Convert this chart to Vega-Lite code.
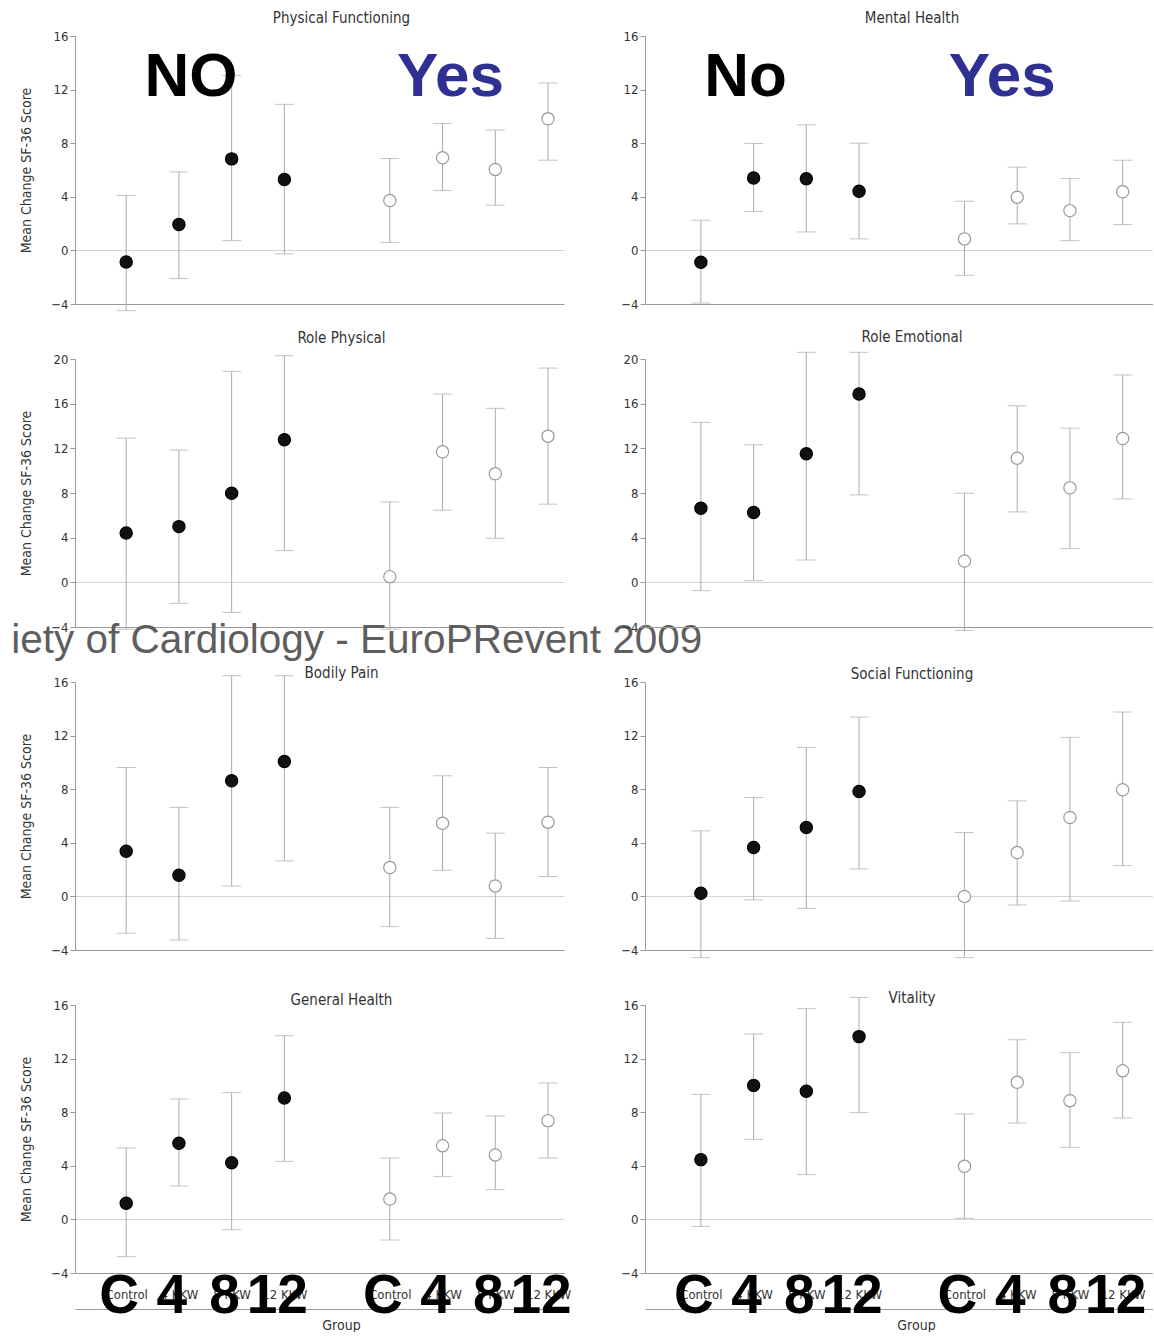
{
"$schema": "https://vega.github.io/schema/vega-lite/v6.json",
"padding": {"left": 11, "top": 11, "right": 0, "bottom": 0},
"background": "white",
"datasets": {"sf": [
{"p":"PF","slot":"No|Control","arm":"No","m":-0.86,"lo":-4.5,"hi":4.1},
{"p":"PF","slot":"No|4 KKW","arm":"No","m":1.93,"lo":-2.1,"hi":5.86},
{"p":"PF","slot":"No|8 KKW","arm":"No","m":6.83,"lo":0.73,"hi":13.06},
{"p":"PF","slot":"No|12 KKW","arm":"No","m":5.29,"lo":-0.26,"hi":10.9},
{"p":"PF","slot":"Yes|Control","arm":"Yes","m":3.72,"lo":0.6,"hi":6.86},
{"p":"PF","slot":"Yes|4 KKW","arm":"Yes","m":6.91,"lo":4.47,"hi":9.47},
{"p":"PF","slot":"Yes|8 KKW","arm":"Yes","m":6.04,"lo":3.37,"hi":8.98},
{"p":"PF","slot":"Yes|12 KKW","arm":"Yes","m":9.82,"lo":6.73,"hi":12.49},
{"p":"MH","slot":"No|Control","arm":"No","m":-0.89,"lo":-3.93,"hi":2.25},
{"p":"MH","slot":"No|4 KKW","arm":"No","m":5.41,"lo":2.9,"hi":7.98},
{"p":"MH","slot":"No|8 KKW","arm":"No","m":5.34,"lo":1.38,"hi":9.37},
{"p":"MH","slot":"No|12 KKW","arm":"No","m":4.42,"lo":0.86,"hi":8.0},
{"p":"MH","slot":"Yes|Control","arm":"Yes","m":0.86,"lo":-1.86,"hi":3.67},
{"p":"MH","slot":"Yes|4 KKW","arm":"Yes","m":3.97,"lo":1.98,"hi":6.21},
{"p":"MH","slot":"Yes|8 KKW","arm":"Yes","m":2.97,"lo":0.73,"hi":5.37},
{"p":"MH","slot":"Yes|12 KKW","arm":"Yes","m":4.37,"lo":1.93,"hi":6.73},
{"p":"RP","slot":"No|Control","arm":"No","m":4.42,"lo":-4.2,"hi":12.91},
{"p":"RP","slot":"No|4 KKW","arm":"No","m":4.99,"lo":-1.88,"hi":11.84},
{"p":"RP","slot":"No|8 KKW","arm":"No","m":7.98,"lo":-2.69,"hi":18.9},
{"p":"RP","slot":"No|12 KKW","arm":"No","m":12.77,"lo":2.84,"hi":20.3},
{"p":"RP","slot":"Yes|Control","arm":"Yes","m":0.51,"lo":-4.2,"hi":7.2},
{"p":"RP","slot":"Yes|4 KKW","arm":"Yes","m":11.69,"lo":6.46,"hi":16.86},
{"p":"RP","slot":"Yes|8 KKW","arm":"Yes","m":9.72,"lo":3.95,"hi":15.58},
{"p":"RP","slot":"Yes|12 KKW","arm":"Yes","m":13.09,"lo":7.0,"hi":19.19},
{"p":"RE","slot":"No|Control","arm":"No","m":6.64,"lo":-0.75,"hi":14.32},
{"p":"RE","slot":"No|4 KKW","arm":"No","m":6.25,"lo":0.15,"hi":12.32},
{"p":"RE","slot":"No|8 KKW","arm":"No","m":11.51,"lo":2.0,"hi":20.6},
{"p":"RE","slot":"No|12 KKW","arm":"No","m":16.86,"lo":7.83,"hi":20.6},
{"p":"RE","slot":"Yes|Control","arm":"Yes","m":1.91,"lo":-4.3,"hi":7.98},
{"p":"RE","slot":"Yes|4 KKW","arm":"Yes","m":11.12,"lo":6.31,"hi":15.81},
{"p":"RE","slot":"Yes|8 KKW","arm":"Yes","m":8.46,"lo":3.02,"hi":13.81},
{"p":"RE","slot":"Yes|12 KKW","arm":"Yes","m":12.88,"lo":7.47,"hi":18.57},
{"p":"BP","slot":"No|Control","arm":"No","m":3.37,"lo":-2.75,"hi":9.62},
{"p":"BP","slot":"No|4 KKW","arm":"No","m":1.58,"lo":-3.25,"hi":6.64},
{"p":"BP","slot":"No|8 KKW","arm":"No","m":8.63,"lo":0.78,"hi":16.47},
{"p":"BP","slot":"No|12 KKW","arm":"No","m":10.07,"lo":2.65,"hi":16.47},
{"p":"BP","slot":"Yes|Control","arm":"Yes","m":2.15,"lo":-2.26,"hi":6.64},
{"p":"BP","slot":"Yes|4 KKW","arm":"Yes","m":5.46,"lo":1.95,"hi":9.0},
{"p":"BP","slot":"Yes|8 KKW","arm":"Yes","m":0.78,"lo":-3.13,"hi":4.72},
{"p":"BP","slot":"Yes|12 KKW","arm":"Yes","m":5.54,"lo":1.48,"hi":9.62},
{"p":"SF","slot":"No|Control","arm":"No","m":0.23,"lo":-4.57,"hi":4.89},
{"p":"SF","slot":"No|4 KKW","arm":"No","m":3.65,"lo":-0.26,"hi":7.38},
{"p":"SF","slot":"No|8 KKW","arm":"No","m":5.14,"lo":-0.89,"hi":11.12},
{"p":"SF","slot":"No|12 KKW","arm":"No","m":7.83,"lo":2.05,"hi":13.38},
{"p":"SF","slot":"Yes|Control","arm":"Yes","m":0.0,"lo":-4.57,"hi":4.77},
{"p":"SF","slot":"Yes|4 KKW","arm":"Yes","m":3.27,"lo":-0.64,"hi":7.13},
{"p":"SF","slot":"Yes|8 KKW","arm":"Yes","m":5.89,"lo":-0.34,"hi":11.87},
{"p":"SF","slot":"Yes|12 KKW","arm":"Yes","m":7.96,"lo":2.3,"hi":13.76},
{"p":"GH","slot":"No|Control","arm":"No","m":1.2,"lo":-2.78,"hi":5.33},
{"p":"GH","slot":"No|4 KKW","arm":"No","m":5.68,"lo":2.49,"hi":8.99},
{"p":"GH","slot":"No|8 KKW","arm":"No","m":4.23,"lo":-0.77,"hi":9.46},
{"p":"GH","slot":"No|12 KKW","arm":"No","m":9.06,"lo":4.33,"hi":13.71},
{"p":"GH","slot":"Yes|Control","arm":"Yes","m":1.52,"lo":-1.54,"hi":4.58},
{"p":"GH","slot":"Yes|4 KKW","arm":"Yes","m":5.5,"lo":3.21,"hi":7.94},
{"p":"GH","slot":"Yes|8 KKW","arm":"Yes","m":4.81,"lo":2.22,"hi":7.72},
{"p":"GH","slot":"Yes|12 KKW","arm":"Yes","m":7.37,"lo":4.58,"hi":10.18},
{"p":"VT","slot":"No|Control","arm":"No","m":4.46,"lo":-0.52,"hi":9.33},
{"p":"VT","slot":"No|4 KKW","arm":"No","m":10.0,"lo":5.98,"hi":13.84},
{"p":"VT","slot":"No|8 KKW","arm":"No","m":9.56,"lo":3.34,"hi":15.73},
{"p":"VT","slot":"No|12 KKW","arm":"No","m":13.64,"lo":7.97,"hi":16.57},
{"p":"VT","slot":"Yes|Control","arm":"Yes","m":3.96,"lo":0.08,"hi":7.87},
{"p":"VT","slot":"Yes|4 KKW","arm":"Yes","m":10.23,"lo":7.19,"hi":13.41},
{"p":"VT","slot":"Yes|8 KKW","arm":"Yes","m":8.86,"lo":5.38,"hi":12.44},
{"p":"VT","slot":"Yes|12 KKW","arm":"Yes","m":11.1,"lo":7.57,"hi":14.71}
]},
"columns": 2,
"bounds": "flush",
"align": "each",
"spacing": {"row": 55, "column": 81},
"concat": [
{
 "width": 489, "height": 268,
 "title": {"text": "Physical Functioning", "offset": 4, "dx": 22},
 "data": {"name": "sf"},
 "transform": [{"filter": "datum.p === 'PF'"}],
 "encoding": {"x": {"field": "slot", "type": "nominal", "scale": {"type": "point", "domain": ["No|Control","No|4 KKW","No|8 KKW","No|12 KKW"," ","Yes|Control","Yes|4 KKW","Yes|8 KKW","Yes|12 KKW"], "padding": 0.637, "align": 0.762}, "axis": null}},
 "layer": [
  {"mark": {"type": "rule", "color": "#ababab", "strokeWidth": 1}, "encoding": {"y": {"field": "lo", "type": "quantitative", "title": "Mean Change SF-36 Score", "scale": {"domain": [-4, 16], "nice": false, "zero": false}, "axis": {"values": [-4,0,4,8,12,16], "grid": true, "gridColor": {"condition": {"test": "datum.value === -4", "value": "#9a9a9a"}, "value": "#d4d4d4"}, "gridOpacity": {"condition": {"test": "datum.value === 0 || datum.value === -4", "value": 1}, "value": 0}, "titlePadding": 17}}, "y2": {"field": "hi"}}},
  {"mark": {"type": "tick", "color": "#ababab", "size": 19, "thickness": 1}, "encoding": {"y": {"field": "lo", "type": "quantitative", "title": "Mean Change SF-36 Score"}}},
  {"mark": {"type": "tick", "color": "#ababab", "size": 19, "thickness": 1}, "encoding": {"y": {"field": "hi", "type": "quantitative", "title": "Mean Change SF-36 Score"}}},
  {"mark": {"type": "point", "shape": "circle", "filled": true, "size": 150, "strokeWidth": 1.2, "opacity": 1}, "encoding": {"y": {"field": "m", "type": "quantitative", "title": "Mean Change SF-36 Score"}, "fill": {"field": "arm", "type": "nominal", "scale": {"domain": ["No","Yes"], "range": ["#111111","#ffffff"]}, "legend": null}, "stroke": {"field": "arm", "type": "nominal", "scale": {"domain": ["No","Yes"], "range": ["#000000","#9a9a9a"]}, "legend": null}}},
  {"data": {"values": [{"p": "PF", "slot": "No|4 KKW", "t": "NO"}]}, "mark": {"type": "text", "font": "Liberation Sans, Arial, sans-serif", "fontWeight": "bold", "fontSize": 62, "baseline": "alphabetic", "align": "center", "dx": 12, "color": "#000000"}, "encoding": {"y": {"datum": 11.5}, "text": {"field": "t"}}},
  {"data": {"values": [{"p": "PF", "slot": "Yes|4 KKW", "t": "Yes"}]}, "mark": {"type": "text", "font": "Liberation Sans, Arial, sans-serif", "fontWeight": "bold", "fontSize": 62, "baseline": "alphabetic", "align": "center", "dx": 8, "color": "#2f3192"}, "encoding": {"y": {"datum": 11.5}, "text": {"field": "t"}}}
 ]
},
{
 "width": 508, "height": 268,
 "title": {"text": "Mental Health", "offset": 4, "dx": 13},
 "data": {"name": "sf"},
 "transform": [{"filter": "datum.p === 'MH'"}],
 "encoding": {"x": {"field": "slot", "type": "nominal", "scale": {"type": "point", "domain": ["No|Control","No|4 KKW","No|8 KKW","No|12 KKW"," ","Yes|Control","Yes|4 KKW","Yes|8 KKW","Yes|12 KKW"], "padding": 0.818, "align": 0.648}, "axis": null}},
 "layer": [
  {"mark": {"type": "rule", "color": "#ababab", "strokeWidth": 1}, "encoding": {"y": {"field": "lo", "type": "quantitative", "title": null, "scale": {"domain": [-4, 16], "nice": false, "zero": false}, "axis": {"values": [-4,0,4,8,12,16], "grid": true, "gridColor": {"condition": {"test": "datum.value === -4", "value": "#9a9a9a"}, "value": "#d4d4d4"}, "gridOpacity": {"condition": {"test": "datum.value === 0 || datum.value === -4", "value": 1}, "value": 0}}}, "y2": {"field": "hi"}}},
  {"mark": {"type": "tick", "color": "#ababab", "size": 19, "thickness": 1}, "encoding": {"y": {"field": "lo", "type": "quantitative", "title": null}}},
  {"mark": {"type": "tick", "color": "#ababab", "size": 19, "thickness": 1}, "encoding": {"y": {"field": "hi", "type": "quantitative", "title": null}}},
  {"mark": {"type": "point", "shape": "circle", "filled": true, "size": 150, "strokeWidth": 1.2, "opacity": 1}, "encoding": {"y": {"field": "m", "type": "quantitative", "title": null}, "fill": {"field": "arm", "type": "nominal", "scale": {"domain": ["No","Yes"], "range": ["#111111","#ffffff"]}, "legend": null}, "stroke": {"field": "arm", "type": "nominal", "scale": {"domain": ["No","Yes"], "range": ["#000000","#9a9a9a"]}, "legend": null}}},
  {"data": {"values": [{"p": "MH", "slot": "No|4 KKW", "t": "No"}]}, "mark": {"type": "text", "font": "Liberation Sans, Arial, sans-serif", "fontWeight": "bold", "fontSize": 62, "baseline": "alphabetic", "align": "center", "dx": -8, "color": "#000000"}, "encoding": {"y": {"datum": 11.5}, "text": {"field": "t"}}},
  {"data": {"values": [{"p": "MH", "slot": "Yes|4 KKW", "t": "Yes"}]}, "mark": {"type": "text", "font": "Liberation Sans, Arial, sans-serif", "fontWeight": "bold", "fontSize": 62, "baseline": "alphabetic", "align": "center", "dx": -15, "color": "#2f3192"}, "encoding": {"y": {"datum": 11.5}, "text": {"field": "t"}}}
 ]
},
{
 "width": 489, "height": 268,
 "title": {"text": "Role Physical", "offset": 7, "dx": 22},
 "data": {"name": "sf"},
 "transform": [{"filter": "datum.p === 'RP'"}],
 "encoding": {"x": {"field": "slot", "type": "nominal", "scale": {"type": "point", "domain": ["No|Control","No|4 KKW","No|8 KKW","No|12 KKW"," ","Yes|Control","Yes|4 KKW","Yes|8 KKW","Yes|12 KKW"], "padding": 0.637, "align": 0.762}, "axis": null}},
 "layer": [
  {"mark": {"type": "rule", "color": "#ababab", "strokeWidth": 1}, "encoding": {"y": {"field": "lo", "type": "quantitative", "title": "Mean Change SF-36 Score", "scale": {"domain": [-4, 20], "nice": false, "zero": false}, "axis": {"values": [-4,0,4,8,12,16,20], "grid": true, "gridColor": {"condition": {"test": "datum.value === -4", "value": "#9a9a9a"}, "value": "#d4d4d4"}, "gridOpacity": {"condition": {"test": "datum.value === 0 || datum.value === -4", "value": 1}, "value": 0}, "titlePadding": 17}}, "y2": {"field": "hi"}}},
  {"mark": {"type": "tick", "color": "#ababab", "size": 19, "thickness": 1}, "encoding": {"y": {"field": "lo", "type": "quantitative", "title": "Mean Change SF-36 Score"}}},
  {"mark": {"type": "tick", "color": "#ababab", "size": 19, "thickness": 1}, "encoding": {"y": {"field": "hi", "type": "quantitative", "title": "Mean Change SF-36 Score"}}},
  {"mark": {"type": "point", "shape": "circle", "filled": true, "size": 150, "strokeWidth": 1.2, "opacity": 1}, "encoding": {"y": {"field": "m", "type": "quantitative", "title": "Mean Change SF-36 Score"}, "fill": {"field": "arm", "type": "nominal", "scale": {"domain": ["No","Yes"], "range": ["#111111","#ffffff"]}, "legend": null}, "stroke": {"field": "arm", "type": "nominal", "scale": {"domain": ["No","Yes"], "range": ["#000000","#9a9a9a"]}, "legend": null}}},
  {"data": {"values": [{"p": "RP", "slot": "No|Control", "t": "iety of Cardiology - EuroPRevent 2009"}]}, "mark": {"type": "text", "font": "Liberation Sans, Arial, sans-serif", "fontSize": 40.5, "baseline": "alphabetic", "align": "left", "dx": -115, "color": "#5e5e5e"}, "encoding": {"y": {"datum": -6.33}, "text": {"field": "t"}}}
 ]
},
{
 "width": 508, "height": 268,
 "title": {"text": "Role Emotional", "offset": 7, "dx": 13},
 "data": {"name": "sf"},
 "transform": [{"filter": "datum.p === 'RE'"}],
 "encoding": {"x": {"field": "slot", "type": "nominal", "scale": {"type": "point", "domain": ["No|Control","No|4 KKW","No|8 KKW","No|12 KKW"," ","Yes|Control","Yes|4 KKW","Yes|8 KKW","Yes|12 KKW"], "padding": 0.818, "align": 0.648}, "axis": null}},
 "layer": [
  {"mark": {"type": "rule", "color": "#ababab", "strokeWidth": 1}, "encoding": {"y": {"field": "lo", "type": "quantitative", "title": null, "scale": {"domain": [-4, 20], "nice": false, "zero": false}, "axis": {"values": [-4,0,4,8,12,16,20], "grid": true, "gridColor": {"condition": {"test": "datum.value === -4", "value": "#9a9a9a"}, "value": "#d4d4d4"}, "gridOpacity": {"condition": {"test": "datum.value === 0 || datum.value === -4", "value": 1}, "value": 0}}}, "y2": {"field": "hi"}}},
  {"mark": {"type": "tick", "color": "#ababab", "size": 19, "thickness": 1}, "encoding": {"y": {"field": "lo", "type": "quantitative", "title": null}}},
  {"mark": {"type": "tick", "color": "#ababab", "size": 19, "thickness": 1}, "encoding": {"y": {"field": "hi", "type": "quantitative", "title": null}}},
  {"mark": {"type": "point", "shape": "circle", "filled": true, "size": 150, "strokeWidth": 1.2, "opacity": 1}, "encoding": {"y": {"field": "m", "type": "quantitative", "title": null}, "fill": {"field": "arm", "type": "nominal", "scale": {"domain": ["No","Yes"], "range": ["#111111","#ffffff"]}, "legend": null}, "stroke": {"field": "arm", "type": "nominal", "scale": {"domain": ["No","Yes"], "range": ["#000000","#9a9a9a"]}, "legend": null}}}
 ]
},
{
 "width": 489, "height": 268,
 "title": {"text": "Bodily Pain", "offset": -6, "dx": 22},
 "data": {"name": "sf"},
 "transform": [{"filter": "datum.p === 'BP'"}],
 "encoding": {"x": {"field": "slot", "type": "nominal", "scale": {"type": "point", "domain": ["No|Control","No|4 KKW","No|8 KKW","No|12 KKW"," ","Yes|Control","Yes|4 KKW","Yes|8 KKW","Yes|12 KKW"], "padding": 0.637, "align": 0.762}, "axis": null}},
 "layer": [
  {"mark": {"type": "rule", "color": "#ababab", "strokeWidth": 1}, "encoding": {"y": {"field": "lo", "type": "quantitative", "title": "Mean Change SF-36 Score", "scale": {"domain": [-4, 16], "nice": false, "zero": false}, "axis": {"values": [-4,0,4,8,12,16], "grid": true, "gridColor": {"condition": {"test": "datum.value === -4", "value": "#9a9a9a"}, "value": "#d4d4d4"}, "gridOpacity": {"condition": {"test": "datum.value === 0 || datum.value === -4", "value": 1}, "value": 0}, "titlePadding": 17}}, "y2": {"field": "hi"}}},
  {"mark": {"type": "tick", "color": "#ababab", "size": 19, "thickness": 1}, "encoding": {"y": {"field": "lo", "type": "quantitative", "title": "Mean Change SF-36 Score"}}},
  {"mark": {"type": "tick", "color": "#ababab", "size": 19, "thickness": 1}, "encoding": {"y": {"field": "hi", "type": "quantitative", "title": "Mean Change SF-36 Score"}}},
  {"mark": {"type": "point", "shape": "circle", "filled": true, "size": 150, "strokeWidth": 1.2, "opacity": 1}, "encoding": {"y": {"field": "m", "type": "quantitative", "title": "Mean Change SF-36 Score"}, "fill": {"field": "arm", "type": "nominal", "scale": {"domain": ["No","Yes"], "range": ["#111111","#ffffff"]}, "legend": null}, "stroke": {"field": "arm", "type": "nominal", "scale": {"domain": ["No","Yes"], "range": ["#000000","#9a9a9a"]}, "legend": null}}}
 ]
},
{
 "width": 508, "height": 268,
 "title": {"text": "Social Functioning", "offset": -6, "dx": 13},
 "data": {"name": "sf"},
 "transform": [{"filter": "datum.p === 'SF'"}],
 "encoding": {"x": {"field": "slot", "type": "nominal", "scale": {"type": "point", "domain": ["No|Control","No|4 KKW","No|8 KKW","No|12 KKW"," ","Yes|Control","Yes|4 KKW","Yes|8 KKW","Yes|12 KKW"], "padding": 0.818, "align": 0.648}, "axis": null}},
 "layer": [
  {"mark": {"type": "rule", "color": "#ababab", "strokeWidth": 1}, "encoding": {"y": {"field": "lo", "type": "quantitative", "title": null, "scale": {"domain": [-4, 16], "nice": false, "zero": false}, "axis": {"values": [-4,0,4,8,12,16], "grid": true, "gridColor": {"condition": {"test": "datum.value === -4", "value": "#9a9a9a"}, "value": "#d4d4d4"}, "gridOpacity": {"condition": {"test": "datum.value === 0 || datum.value === -4", "value": 1}, "value": 0}}}, "y2": {"field": "hi"}}},
  {"mark": {"type": "tick", "color": "#ababab", "size": 19, "thickness": 1}, "encoding": {"y": {"field": "lo", "type": "quantitative", "title": null}}},
  {"mark": {"type": "tick", "color": "#ababab", "size": 19, "thickness": 1}, "encoding": {"y": {"field": "hi", "type": "quantitative", "title": null}}},
  {"mark": {"type": "point", "shape": "circle", "filled": true, "size": 150, "strokeWidth": 1.2, "opacity": 1}, "encoding": {"y": {"field": "m", "type": "quantitative", "title": null}, "fill": {"field": "arm", "type": "nominal", "scale": {"domain": ["No","Yes"], "range": ["#111111","#ffffff"]}, "legend": null}, "stroke": {"field": "arm", "type": "nominal", "scale": {"domain": ["No","Yes"], "range": ["#000000","#9a9a9a"]}, "legend": null}}}
 ]
},
{
 "width": 489, "height": 268,
 "title": {"text": "General Health", "offset": -9, "dx": 22},
 "data": {"name": "sf"},
 "transform": [{"filter": "datum.p === 'GH'"}],
 "encoding": {"x": {"field": "slot", "type": "nominal", "scale": {"type": "point", "domain": ["No|Control","No|4 KKW","No|8 KKW","No|12 KKW"," ","Yes|Control","Yes|4 KKW","Yes|8 KKW","Yes|12 KKW"], "padding": 0.637, "align": 0.762}, "axis": {"title": "Group", "labelExpr": "replace(replace(datum.label, 'No|', ''), 'Yes|', '')", "labelAngle": 0, "ticks": false, "tickSize": 0, "offset": 36, "labelPadding": -21, "domain": true, "grid": false, "titlePadding": 9, "titleX": 266}}},
 "layer": [
  {"mark": {"type": "rule", "color": "#ababab", "strokeWidth": 1}, "encoding": {"y": {"field": "lo", "type": "quantitative", "title": "Mean Change SF-36 Score", "scale": {"domain": [-4, 16], "nice": false, "zero": false}, "axis": {"values": [-4,0,4,8,12,16], "grid": true, "gridColor": {"condition": {"test": "datum.value === -4", "value": "#9a9a9a"}, "value": "#d4d4d4"}, "gridOpacity": {"condition": {"test": "datum.value === 0 || datum.value === -4", "value": 1}, "value": 0}, "titlePadding": 17}}, "y2": {"field": "hi"}}},
  {"mark": {"type": "tick", "color": "#ababab", "size": 19, "thickness": 1}, "encoding": {"y": {"field": "lo", "type": "quantitative", "title": "Mean Change SF-36 Score"}}},
  {"mark": {"type": "tick", "color": "#ababab", "size": 19, "thickness": 1}, "encoding": {"y": {"field": "hi", "type": "quantitative", "title": "Mean Change SF-36 Score"}}},
  {"mark": {"type": "point", "shape": "circle", "filled": true, "size": 150, "strokeWidth": 1.2, "opacity": 1}, "encoding": {"y": {"field": "m", "type": "quantitative", "title": "Mean Change SF-36 Score"}, "fill": {"field": "arm", "type": "nominal", "scale": {"domain": ["No","Yes"], "range": ["#111111","#ffffff"]}, "legend": null}, "stroke": {"field": "arm", "type": "nominal", "scale": {"domain": ["No","Yes"], "range": ["#000000","#9a9a9a"]}, "legend": null}}},
  {"data": {"values": [{"p":"GH","slot":"No|Control","t":"C"},{"p":"GH","slot":"No|4 KKW","t":"4"},{"p":"GH","slot":"No|8 KKW","t":"8"},{"p":"GH","slot":"No|12 KKW","t":"12"},{"p":"GH","slot":"Yes|Control","t":"C"},{"p":"GH","slot":"Yes|4 KKW","t":"4"},{"p":"GH","slot":"Yes|8 KKW","t":"8"},{"p":"GH","slot":"Yes|12 KKW","t":"12"}]}, "mark": {"type": "text", "font": "Liberation Sans, Arial, sans-serif", "fontWeight": "bold", "fontSize": 55, "baseline": "alphabetic", "align": "center", "dx": -7, "color": "#000000"}, "encoding": {"y": {"datum": -7}, "text": {"field": "t"}}}
 ]
},
{
 "width": 508, "height": 268,
 "title": {"text": "Vitality", "offset": -9, "dx": 13},
 "data": {"name": "sf"},
 "transform": [{"filter": "datum.p === 'VT'"}],
 "encoding": {"x": {"field": "slot", "type": "nominal", "scale": {"type": "point", "domain": ["No|Control","No|4 KKW","No|8 KKW","No|12 KKW"," ","Yes|Control","Yes|4 KKW","Yes|8 KKW","Yes|12 KKW"], "padding": 0.818, "align": 0.648}, "axis": {"title": "Group", "labelExpr": "replace(replace(datum.label, 'No|', ''), 'Yes|', '')", "labelAngle": 0, "ticks": false, "tickSize": 0, "offset": 36, "labelPadding": -21, "domain": true, "grid": false, "titlePadding": 9, "titleX": 271}}},
 "layer": [
  {"mark": {"type": "rule", "color": "#ababab", "strokeWidth": 1}, "encoding": {"y": {"field": "lo", "type": "quantitative", "title": null, "scale": {"domain": [-4, 16], "nice": false, "zero": false}, "axis": {"values": [-4,0,4,8,12,16], "grid": true, "gridColor": {"condition": {"test": "datum.value === -4", "value": "#9a9a9a"}, "value": "#d4d4d4"}, "gridOpacity": {"condition": {"test": "datum.value === 0 || datum.value === -4", "value": 1}, "value": 0}}}, "y2": {"field": "hi"}}},
  {"mark": {"type": "tick", "color": "#ababab", "size": 19, "thickness": 1}, "encoding": {"y": {"field": "lo", "type": "quantitative", "title": null}}},
  {"mark": {"type": "tick", "color": "#ababab", "size": 19, "thickness": 1}, "encoding": {"y": {"field": "hi", "type": "quantitative", "title": null}}},
  {"mark": {"type": "point", "shape": "circle", "filled": true, "size": 150, "strokeWidth": 1.2, "opacity": 1}, "encoding": {"y": {"field": "m", "type": "quantitative", "title": null}, "fill": {"field": "arm", "type": "nominal", "scale": {"domain": ["No","Yes"], "range": ["#111111","#ffffff"]}, "legend": null}, "stroke": {"field": "arm", "type": "nominal", "scale": {"domain": ["No","Yes"], "range": ["#000000","#9a9a9a"]}, "legend": null}}},
  {"data": {"values": [{"p":"VT","slot":"No|Control","t":"C"},{"p":"VT","slot":"No|4 KKW","t":"4"},{"p":"VT","slot":"No|8 KKW","t":"8"},{"p":"VT","slot":"No|12 KKW","t":"12"},{"p":"VT","slot":"Yes|Control","t":"C"},{"p":"VT","slot":"Yes|4 KKW","t":"4"},{"p":"VT","slot":"Yes|8 KKW","t":"8"},{"p":"VT","slot":"Yes|12 KKW","t":"12"}]}, "mark": {"type": "text", "font": "Liberation Sans, Arial, sans-serif", "fontWeight": "bold", "fontSize": 55, "baseline": "alphabetic", "align": "center", "dx": -7, "color": "#000000"}, "encoding": {"y": {"datum": -7}, "text": {"field": "t"}}}
 ]
}
],
"config": {
 "view": {"stroke": null},
 "axis": {"labelFont": "Liberation Sans Narrow, Arial Narrow, DejaVu Sans Condensed, sans-serif", "labelFontSize": 13, "labelColor": "#333333", "titleFont": "Liberation Sans Narrow, Arial Narrow, DejaVu Sans Condensed, sans-serif", "titleFontSize": 14, "titleFontWeight": "normal", "titleColor": "#333333", "domainColor": "#9a9a9a", "tickColor": "#9a9a9a", "tickSize": 5, "labelPadding": 2},
 "title": {"font": "Liberation Sans Narrow, Arial Narrow, DejaVu Sans Condensed, sans-serif", "fontSize": 15, "fontWeight": "normal", "color": "#333333", "frame": "group", "anchor": "middle", "baseline": "bottom"}
}
}
